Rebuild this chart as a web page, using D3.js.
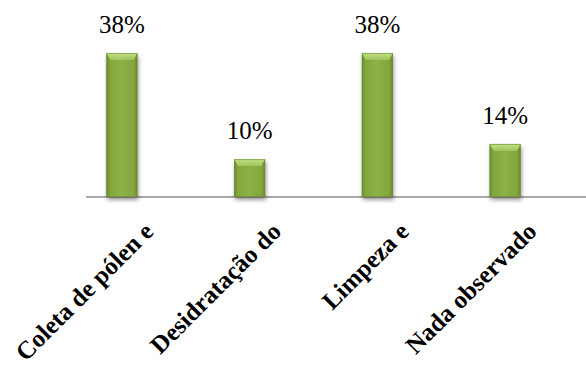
<!DOCTYPE html>
<html>
<head>
<meta charset="utf-8">
<script src="https://cdn.jsdelivr.net/npm/d3@7/dist/d3.min.js"></script>
</head>
<body style="margin:0">
<svg id="chart" width="586" height="365"></svg>
<script>
// Categories and shares
const categories = ["Coleta de pólen e", "Desidratação do", "Limpeza e", "Nada observado"];
const shares = [0.38, 0.10, 0.38, 0.14];
const valueLabels = ["38%", "10%", "38%", "14%"];

const svg = d3.select("#chart");
const W = 586;
const baseY = 197;

const x = d3.scaleBand()
  .domain(categories)
  .range([58, 569])
  .paddingInner(0.757)
  .paddingOuter(0.3785);

const y = d3.scaleLinear()
  .domain([0, 0.40])
  .range([baseY, baseY - 151.6]);

const defs = svg.append("defs");

// Side-to-side shading for the bevelled columns
const side = defs.append("linearGradient").attr("id", "barSide")
  .attr("x1", "0").attr("x2", "1").attr("y1", "0").attr("y2", "0");
[[0, "#6a8a2e"], [0.12, "#84a63d"], [0.5, "#8db146"], [0.88, "#84a63d"], [1, "#6a8a2e"]]
  .forEach(([o, c]) => side.append("stop").attr("offset", o).attr("stop-color", c));

// Lighter cap at the top of each column
const cap = defs.append("linearGradient").attr("id", "barCap")
  .attr("x1", "0").attr("x2", "0").attr("y1", "0").attr("y2", "1");
[[0, "#c4e08a"], [1, "#9ec458"]]
  .forEach(([o, c]) => cap.append("stop").attr("offset", o).attr("stop-color", c));

// Soft shadow drawn as a blurred grey copy under each column
const blur = defs.append("filter").attr("id", "soft")
  .attr("x", "-50%").attr("y", "-10%").attr("width", "200%").attr("height", "130%");
blur.append("feGaussianBlur").attr("stdDeviation", 2);

// Category axis line
svg.append("line")
  .attr("x1", 86).attr("x2", W)
  .attr("y1", baseY).attr("y2", baseY)
  .attr("stroke", "#8c8c8c").attr("stroke-width", 1.5);

const data = categories.map((c, i) => ({ c, v: shares[i], label: valueLabels[i] }));

const bars = svg.append("g").selectAll("g").data(data).join("g");

bars.append("rect")
  .attr("x", d => x(d.c) + 1)
  .attr("y", d => y(d.v) + 3)
  .attr("width", x.bandwidth())
  .attr("height", d => y(0) - y(d.v))
  .attr("fill", "#000")
  .attr("opacity", 0.4)
  .attr("filter", "url(#soft)");

bars.append("rect")
  .attr("x", d => x(d.c))
  .attr("y", d => y(d.v))
  .attr("width", x.bandwidth())
  .attr("height", d => y(0) - y(d.v))
  .attr("fill", "url(#barSide)");

// Top bevel as a trapezoid
const inset = 4, capH = 7;
bars.append("path")
  .attr("d", d => {
    const x0 = x(d.c), x1 = x0 + x.bandwidth(), t = y(d.v);
    return `M${x0},${t}L${x1},${t}L${x1 - inset},${t + capH}L${x0 + inset},${t + capH}Z`;
  })
  .attr("fill", "url(#barCap)");

// Thin darker outline around each column
bars.append("rect")
  .attr("x", d => x(d.c) + 0.5)
  .attr("y", d => y(d.v) + 0.5)
  .attr("width", x.bandwidth() - 1)
  .attr("height", d => y(0) - y(d.v) - 1)
  .attr("fill", "none")
  .attr("stroke", "#6b8a30")
  .attr("stroke-opacity", 0.6)
  .attr("stroke-width", 1);

// Value labels above the columns
svg.append("g")
  .attr("font-family", "Liberation Serif")
  .attr("font-size", 25)
  .attr("text-anchor", "middle")
  .selectAll("text").data(data).join("text")
  .attr("x", d => x(d.c) + x.bandwidth() / 2)
  .attr("y", d => y(d.v) - 20)
  .text(d => d.label);

// Rotated category labels
svg.append("g")
  .attr("font-family", "Liberation Serif")
  .attr("font-size", 25)
  .attr("font-weight", "bold")
  .attr("text-anchor", "end")
  .selectAll("text").data(data).join("text")
  .attr("transform", d => `translate(${x(d.c) + x.bandwidth() / 2 + 33},233) rotate(-45)`)
  .text(d => d.c);
</script>
</body>
</html>
